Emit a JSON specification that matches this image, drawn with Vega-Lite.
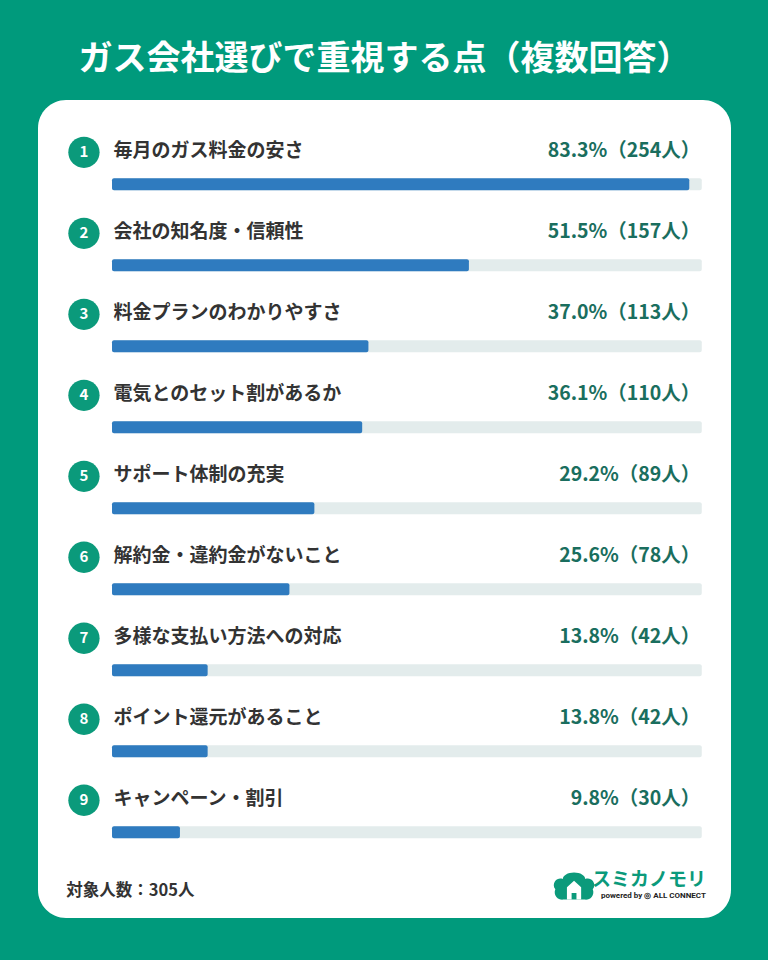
{
  "$schema": "https://vega.github.io/schema/vega-lite/v6.json",
  "width": 693,
  "height": 818,
  "autosize": {"type": "none"},
  "padding": {"left": 38, "top": 100, "right": 37, "bottom": 42},
  "background": "#009a7c",
  "title": {
    "text": "ガス会社選びで重視する点（複数回答）",
    "color": "white",
    "fontSize": 34,
    "font": "Noto Sans CJK JP",
    "fontWeight": "bold",
    "anchor": "middle",
    "frame": "group",
    "offset": 23
  },
  "config": {
    "view": {"fill": "white", "stroke": null, "cornerRadius": 28},
    "text": {"font": "Noto Sans CJK JP"}
  },
  "data": {
    "values": [
      {"rank": 1, "item": "毎月のガス料金の安さ", "pct": 83.3, "count": 254, "value": "83.3%（254人）"},
      {"rank": 2, "item": "会社の知名度・信頼性", "pct": 51.5, "count": 157, "value": "51.5%（157人）"},
      {"rank": 3, "item": "料金プランのわかりやすさ", "pct": 37.0, "count": 113, "value": "37.0%（113人）"},
      {"rank": 4, "item": "電気とのセット割があるか", "pct": 36.1, "count": 110, "value": "36.1%（110人）"},
      {"rank": 5, "item": "サポート体制の充実", "pct": 29.2, "count": 89, "value": "29.2%（89人）"},
      {"rank": 6, "item": "解約金・違約金がないこと", "pct": 25.6, "count": 78, "value": "25.6%（78人）"},
      {"rank": 7, "item": "多様な支払い方法への対応", "pct": 13.8, "count": 42, "value": "13.8%（42人）"},
      {"rank": 8, "item": "ポイント還元があること", "pct": 13.8, "count": 42, "value": "13.8%（42人）"},
      {"rank": 9, "item": "キャンペーン・割引", "pct": 9.8, "count": 30, "value": "9.8%（30人）"}
    ]
  },
  "layer": [
    {
      "mark": {"type": "bar", "orient": "horizontal", "size": 12, "color": "#e3ecec", "cornerRadius": 2, "yOffset": 32},
      "encoding": {
        "x": {"datum": 85.1, "type": "quantitative", "axis": null,
              "scale": {"domain": [-10.68, 89.32], "nice": false, "zero": false}},
        "x2": {"datum": 0},
        "y": {"field": "rank", "type": "quantitative", "axis": null,
              "scale": {"domain": [0.416, 10.392], "reverse": true, "nice": false, "zero": false}}
      }
    },
    {
      "mark": {"type": "bar", "orient": "horizontal", "size": 12, "color": "#2f7bbf", "cornerRadius": 2, "yOffset": 32},
      "encoding": {
        "x": {"field": "pct", "type": "quantitative", "axis": null,
              "scale": {"domain": [-10.68, 89.32], "nice": false, "zero": false}},
        "x2": {"datum": 0},
        "y": {"field": "rank", "type": "quantitative", "axis": null,
              "scale": {"domain": [0.416, 10.392], "reverse": true, "nice": false, "zero": false}}
      }
    },
    {
      "mark": {"type": "point", "filled": true, "size": 980, "color": "#0b9a7b", "opacity": 1, "shape": "circle"},
      "encoding": {
        "x": {"datum": -4.05, "type": "quantitative", "axis": null,
              "scale": {"domain": [-10.68, 89.32], "nice": false, "zero": false}},
        "y": {"field": "rank", "type": "quantitative", "axis": null,
              "scale": {"domain": [0.416, 10.392], "reverse": true, "nice": false, "zero": false}}
      }
    },
    {
      "mark": {"type": "text", "color": "white", "fontSize": 15, "fontWeight": "bold", "align": "center", "baseline": "middle"},
      "encoding": {
        "x": {"datum": -4.05, "type": "quantitative", "axis": null,
              "scale": {"domain": [-10.68, 89.32], "nice": false, "zero": false}},
        "y": {"field": "rank", "type": "quantitative", "axis": null,
              "scale": {"domain": [0.416, 10.392], "reverse": true, "nice": false, "zero": false}},
        "text": {"field": "rank", "type": "nominal"}
      }
    },
    {
      "mark": {"type": "text", "color": "#333333", "fontSize": 19, "fontWeight": "bold", "align": "left", "baseline": "middle", "dy": -1},
      "encoding": {
        "x": {"datum": 0.2, "type": "quantitative", "axis": null,
              "scale": {"domain": [-10.68, 89.32], "nice": false, "zero": false}},
        "y": {"field": "rank", "type": "quantitative", "axis": null,
              "scale": {"domain": [0.416, 10.392], "reverse": true, "nice": false, "zero": false}},
        "text": {"field": "item", "type": "nominal"}
      }
    },
    {
      "mark": {"type": "text", "color": "#1a6e5e", "fontSize": 19.5, "fontWeight": "bold", "align": "right", "baseline": "middle", "dy": -1},
      "encoding": {
        "x": {"datum": 84.9, "type": "quantitative", "axis": null,
              "scale": {"domain": [-10.68, 89.32], "nice": false, "zero": false}},
        "y": {"field": "rank", "type": "quantitative", "axis": null,
              "scale": {"domain": [0.416, 10.392], "reverse": true, "nice": false, "zero": false}},
        "text": {"field": "value", "type": "nominal"}
      }
    },
    {
      "data": {"values": [{"note": "対象人数：305人"}]},
      "mark": {"type": "text", "color": "#333333", "fontSize": 16.5, "fontWeight": "bold", "align": "left", "baseline": "middle"},
      "encoding": {
        "x": {"datum": -6.6, "type": "quantitative", "axis": null,
              "scale": {"domain": [-10.68, 89.32], "nice": false, "zero": false}},
        "y": {"datum": 10.12, "type": "quantitative", "axis": null,
              "scale": {"domain": [0.416, 10.392], "reverse": true, "nice": false, "zero": false}},
        "text": {"field": "note", "type": "nominal"}
      }
    },
    {
      "data": {"values": [{"logo": "スミカノモリ"}]},
      "mark": {"type": "text", "color": "#0b9a7b", "fontSize": 19, "fontWeight": "bold", "align": "right", "baseline": "middle"},
      "encoding": {
        "x": {"datum": 85.7, "type": "quantitative", "axis": null,
              "scale": {"domain": [-10.68, 89.32], "nice": false, "zero": false}},
        "y": {"datum": 9.99, "type": "quantitative", "axis": null,
              "scale": {"domain": [0.416, 10.392], "reverse": true, "nice": false, "zero": false}},
        "text": {"field": "logo", "type": "nominal"}
      }
    },
    {
      "data": {"values": [{"logo": "powered by ◎ ALL CONNECT"}]},
      "mark": {"type": "text", "color": "#222222", "fontSize": 8, "fontWeight": "bold", "align": "right", "baseline": "middle", "font": "Roboto"},
      "encoding": {
        "x": {"datum": 85.7, "type": "quantitative", "axis": null,
              "scale": {"domain": [-10.68, 89.32], "nice": false, "zero": false}},
        "y": {"datum": 10.185, "type": "quantitative", "axis": null,
              "scale": {"domain": [0.416, 10.392], "reverse": true, "nice": false, "zero": false}},
        "text": {"field": "logo", "type": "nominal"}
      }
    },
    {
      "data": {"values": [{"icon": "tree"}]},
      "mark": {"type": "point", "filled": true, "size": 1400, "color": "#0b9a7b", "opacity": 1,
               "shape": "M-1,0.15 A0.35,0.35 0 0 1 -0.6,-0.4 A0.6,0.35 0 0 1 0.6,-0.4 A0.35,0.35 0 0 1 1,0.15 A0.4,0.4 0 0 1 0.55,0.7 L-0.55,0.7 A0.4,0.4 0 0 1 -1,0.15 Z"},
      "encoding": {
        "x": {"datum": 66.67, "type": "quantitative", "axis": null,
              "scale": {"domain": [-10.68, 89.32], "nice": false, "zero": false}},
        "y": {"datum": 10.064, "type": "quantitative", "axis": null,
              "scale": {"domain": [0.416, 10.392], "reverse": true, "nice": false, "zero": false}}
      }
    },
    {
      "data": {"values": [{"icon": "house"}]},
      "mark": {"type": "point", "filled": true, "size": 1400, "color": "white", "opacity": 1,
               "shape": "M-0.38,0.7 L-0.38,0.05 L0,-0.3 L0.38,0.05 L0.38,0.7 L0.13,0.7 L0.13,0.35 L-0.13,0.35 L-0.13,0.7 Z"},
      "encoding": {
        "x": {"datum": 66.67, "type": "quantitative", "axis": null,
              "scale": {"domain": [-10.68, 89.32], "nice": false, "zero": false}},
        "y": {"datum": 10.064, "type": "quantitative", "axis": null,
              "scale": {"domain": [0.416, 10.392], "reverse": true, "nice": false, "zero": false}}
      }
    }
  ]
}
